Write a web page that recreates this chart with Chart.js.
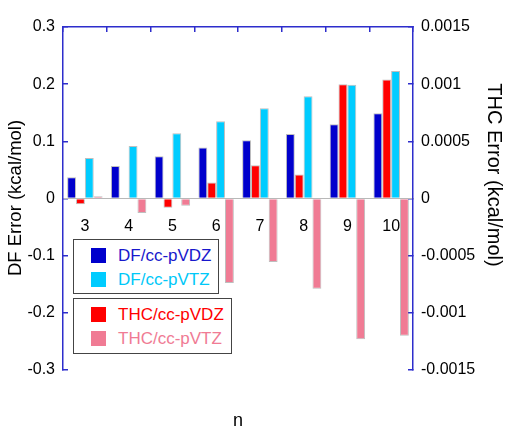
<!DOCTYPE html>
<html>
<head>
<meta charset="utf-8">
<script src="https://cdn.jsdelivr.net/npm/chart.js@4.4.1/dist/chart.umd.min.js"></script>
<style>
  html, body { margin: 0; padding: 0; background: #fff; }
  #wrap { position: relative; width: 506px; height: 426px; overflow: hidden; font-family: "Liberation Sans", Arial, sans-serif; }
  canvas { position: absolute; left: 0; top: 0; }
  .lg { position: absolute; background: #fff; border: 1.3px solid #444; box-sizing: border-box; }
  .it { position: absolute; left: 17px; height: 20px; font-size: 17px; line-height: 20px; white-space: nowrap; }
  .sw { display: inline-block; width: 15px; height: 15px; vertical-align: -2px; margin-right: 12px; }
</style>
</head>
<body>
<div id="wrap">
  <canvas id="c" width="506" height="426"></canvas>
  <div class="lg" style="left:73px;top:239px;width:146px;height:55px;">
    <div class="it" style="top:6px;color:#1818cc;"><span class="sw" style="background:#0000cc"></span>DF/cc-pVDZ</div>
    <div class="it" style="top:30px;color:#00c8f8;"><span class="sw" style="background:#00ccff"></span>DF/cc-pVTZ</div>
  </div>
  <div class="lg" style="left:73px;top:298px;width:159px;height:56px;">
    <div class="it" style="top:6px;color:#ff0000;"><span class="sw" style="background:#ff0000"></span>THC/cc-pVDZ</div>
    <div class="it" style="top:30px;color:#f07b94;"><span class="sw" style="background:#f07b94"></span>THC/cc-pVTZ</div>
  </div>
</div>
<script>
const categories = ['3', '4', '5', '6', '7', '8', '9', '10'];
const dfVDZ  = [0.037, 0.057, 0.074, 0.089, 0.102, 0.113, 0.130, 0.149];
const dfVTZ  = [0.071, 0.092, 0.114, 0.135, 0.158, 0.179, 0.199, 0.223];
const thcVDZ = [-0.00005, 0, -0.00008, 0.00014, 0.00029, 0.00021, 0.00100, 0.00104];
const thcVTZ = [0.00002, -0.000126, -0.000064, -0.00074, -0.000556, -0.00079, -0.00123, -0.00120];

const leftTitle = 'DF Error (kcal/mol)';
const rightTitle = 'THC Error (kcal/mol)';
const xTitle = 'n';

const AXIS_BLUE = '#2d2dcc';
const FONT = '"Liberation Sans", Arial, sans-serif';

const titlePlugin = {
  id: 'titles',
  afterDraw(chart) {
    const ctx = chart.ctx;
    ctx.save();
    ctx.fillStyle = '#000';
    ctx.textAlign = 'center';
    ctx.textBaseline = 'middle';
    ctx.save();
    ctx.font = '18.5px ' + FONT;
    ctx.translate(16, 198);
    ctx.rotate(-Math.PI / 2);
    ctx.fillText(leftTitle, 0, 0);
    ctx.restore();
    ctx.save();
    ctx.font = '20px ' + FONT;
    ctx.translate(494, 175);
    ctx.rotate(Math.PI / 2);
    ctx.fillText(rightTitle, 0, 0);
    ctx.restore();
    ctx.font = '18px ' + FONT;
    ctx.textBaseline = 'alphabetic';
    const a = chart.chartArea;
    ctx.fillText(xTitle, (a.left + a.right) / 2, 426);
    ctx.restore();
  }
};

const barBorder = 'rgba(110,110,110,0.45)';

new Chart(document.getElementById('c'), {
  type: 'bar',
  data: {
    labels: categories,
    datasets: [
      { label: 'DF/cc-pVDZ', data: dfVDZ, yAxisID: 'y', backgroundColor: '#0000cc', borderColor: barBorder, borderWidth: 1 },
      { label: 'THC/cc-pVDZ', data: thcVDZ, yAxisID: 'y2', backgroundColor: '#ff0000', borderColor: barBorder, borderWidth: 1 },
      { label: 'DF/cc-pVTZ', data: dfVTZ, yAxisID: 'y', backgroundColor: '#00ccff', borderColor: barBorder, borderWidth: 1 },
      { label: 'THC/cc-pVTZ', data: thcVTZ, yAxisID: 'y2', backgroundColor: '#f07b94', borderColor: barBorder, borderWidth: 1 }
    ]
  },
  options: {
    responsive: false,
    animation: false,
    devicePixelRatio: 1,
    layout: { padding: { top: 27, bottom: 56, left: 0, right: 0 } },
    datasets: { bar: { categoryPercentage: 0.81, barPercentage: 1.0 } },
    plugins: { legend: { display: false }, tooltip: { enabled: false } },
    scales: {
      x: {
        type: 'category',
        position: { y: 0 },
        grid: { display: false },
        border: { display: true, color: '#b8b8b8', width: 1 },
        ticks: { color: '#000', font: { family: FONT, size: 16 }, padding: 10, maxRotation: 0, autoSkip: false }
      },
      x2: {
        type: 'category',
        axis: 'x',
        position: 'top',
        labels: categories,
        offset: true,
        grid: { display: true, drawOnChartArea: false, drawTicks: true, tickLength: -5, color: AXIS_BLUE, offset: true, lineWidth: 1.5 },
        border: { display: true, color: AXIS_BLUE, width: 1.5 },
        ticks: { display: false },
        afterFit(s) { s.height = 0; }
      },
      y: {
        position: 'left',
        min: -0.3, max: 0.3,
        grid: { display: true, drawOnChartArea: false, drawTicks: true, tickLength: -5, color: AXIS_BLUE, lineWidth: 1.5 },
        border: { display: true, color: AXIS_BLUE, width: 1.5 },
        ticks: { stepSize: 0.1, color: '#000', font: { family: FONT, size: 16 }, padding: 13,
                 callback: v => String(+(+v).toFixed(1)) },
        afterFit(s) { s.width = 63; }
      },
      y2: {
        position: 'right',
        min: -0.0015, max: 0.0015,
        grid: { display: true, drawOnChartArea: false, drawTicks: true, tickLength: -5, color: AXIS_BLUE, lineWidth: 1.5 },
        border: { display: true, color: AXIS_BLUE, width: 1.5 },
        ticks: { stepSize: 0.0005, color: '#000', font: { family: FONT, size: 16 }, padding: 13,
                 callback: v => String(+(+v).toFixed(4)) },
        afterFit(s) { s.width = 93; }
      }
    }
  },
  plugins: [titlePlugin]
});
</script>
</body>
</html>
